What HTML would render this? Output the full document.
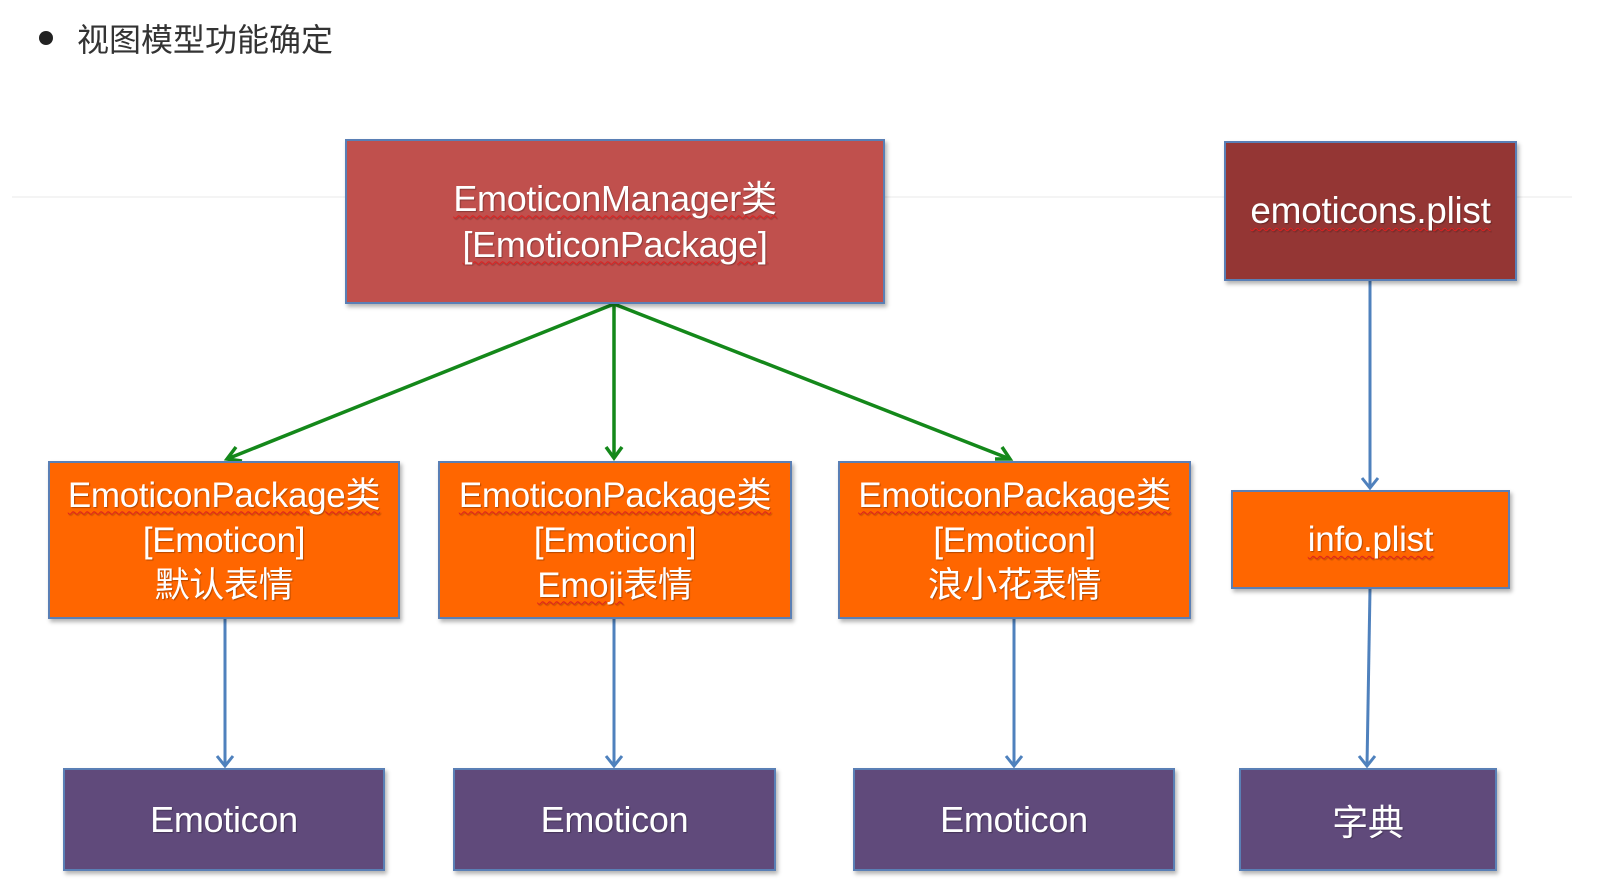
<!DOCTYPE html>
<html><head><meta charset="utf-8"><style>
body{margin:0;width:1602px;height:894px;background:#fff;position:relative;overflow:hidden;font-family:"Liberation Sans","Noto Sans CJK SC",sans-serif}
.b{position:absolute;box-sizing:border-box;border:2px solid #5a7fb5;display:flex;flex-direction:column;align-items:center;justify-content:center;color:#fff;text-align:center;box-shadow:2px 3px 4px rgba(0,0,0,.3);letter-spacing:-0.3px;text-shadow:1px 1px 1px rgba(0,0,0,.3)}
.u{text-decoration:underline wavy #e02020;text-decoration-thickness:1px;text-underline-offset:4px}
.r{background:#c0504d;font-size:36px;line-height:46px}
.d{background:#943634;font-size:37px}
.o{background:#ff6600;font-size:35px;line-height:45px}
.p{background:#604a7b;font-size:36px}
</style></head><body>
<div style="position:absolute;left:39px;top:31px;width:14px;height:14px;border-radius:50%;background:#222"></div>
<div style="position:absolute;left:77px;top:15px;font-size:32px;color:#333">视图模型功能确定</div>
<div style="position:absolute;left:12px;top:196px;width:1560px;height:2px;background:#f4f4f4"></div>
<svg width="1602" height="894" style="position:absolute;left:0;top:0">
<g stroke="#14881a" stroke-width="3.5" fill="none">
<line x1="614" y1="304" x2="227" y2="459"/><line x1="614" y1="304" x2="614" y2="458"/><line x1="614" y1="304" x2="1010" y2="459"/>
<polyline points="236,447 227,459 242,461"/><polyline points="606,447 614,458 622,447"/><polyline points="995,459 1010,459 1002,447"/>
</g>
<g stroke="#4f81bd" stroke-width="3" fill="none">
<line x1="225" y1="619" x2="225" y2="766"/><polyline points="217,756 225,766 233,756"/>
<line x1="614" y1="619" x2="614" y2="766"/><polyline points="606,756 614,766 622,756"/>
<line x1="1014" y1="619" x2="1014" y2="766"/><polyline points="1006,756 1014,766 1022,756"/>
<line x1="1370" y1="281" x2="1370" y2="488"/><polyline points="1362,478 1370,488 1378,478"/>
<line x1="1370" y1="589" x2="1367" y2="766"/><polyline points="1359,756 1367,766 1375,756"/>
</g></svg>
<div class="b r" style="left:345px;top:139px;width:540px;height:165px"><span class="u">EmoticonManager类</span><span class="u">[EmoticonPackage]</span></div>
<div class="b d" style="left:1224px;top:141px;width:293px;height:140px"><span class="u">emoticons.plist</span></div>
<div class="b o" style="left:48px;top:461px;width:352px;height:158px"><span class="u">EmoticonPackage类</span><span>[Emoticon]</span><span>默认表情</span></div>
<div class="b o" style="left:438px;top:461px;width:354px;height:158px"><span class="u">EmoticonPackage类</span><span>[Emoticon]</span><span><span class="u">Emoji</span>表情</span></div>
<div class="b o" style="left:838px;top:461px;width:353px;height:158px"><span class="u">EmoticonPackage类</span><span>[Emoticon]</span><span>浪小花表情</span></div>
<div class="b o" style="left:1231px;top:490px;width:279px;height:99px"><span class="u">info.plist</span></div>
<div class="b p" style="left:63px;top:768px;width:322px;height:103px">Emoticon</div>
<div class="b p" style="left:453px;top:768px;width:323px;height:103px">Emoticon</div>
<div class="b p" style="left:853px;top:768px;width:322px;height:103px">Emoticon</div>
<div class="b p" style="left:1239px;top:768px;width:258px;height:103px">字典</div>
</body></html>
